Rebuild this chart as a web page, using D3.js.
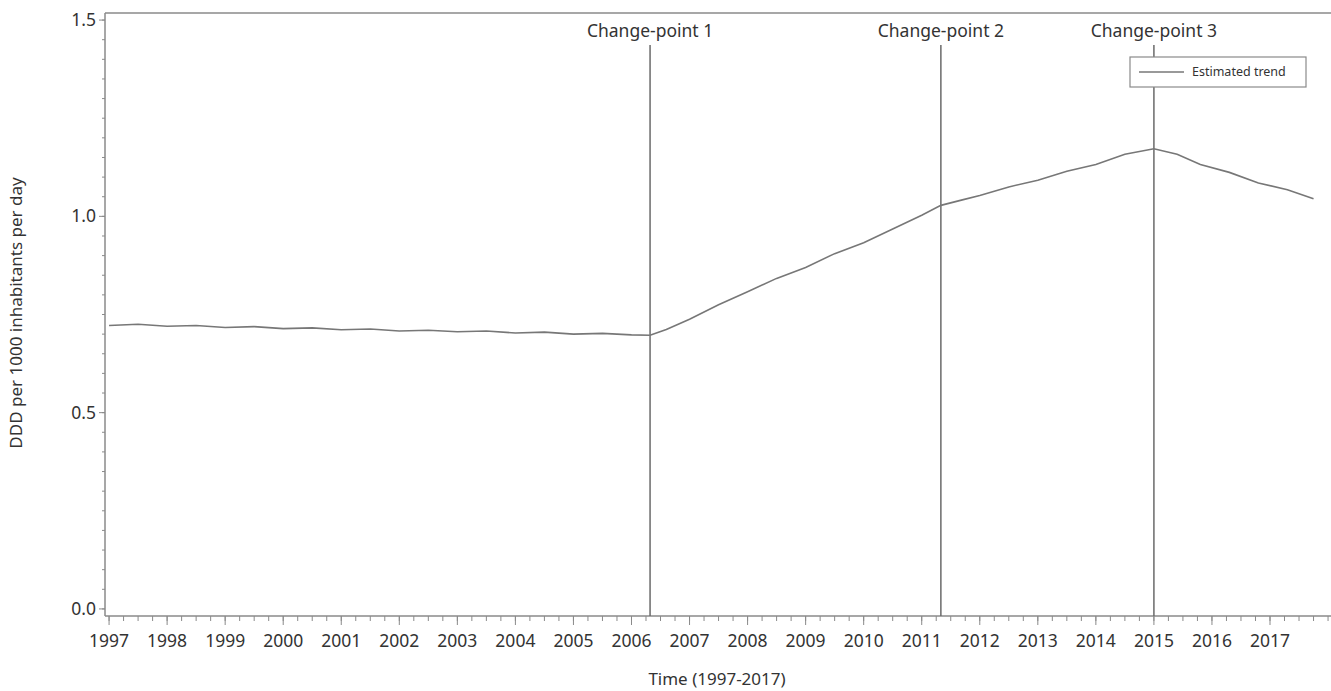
<!DOCTYPE html>
<html><head><meta charset="utf-8">
<script src="https://cdn.jsdelivr.net/npm/d3@7"></script>
<style>body{margin:0;background:#fff}svg{display:block}text{font-family:"Noto Sans","Open Sans",sans-serif;fill:#333}</style>
</head><body><svg id="c" width="1331" height="691"></svg>
<script>
const trendYears = [1997.0,1997.5,1998.0,1998.5,1999.0,1999.5,2000.0,2000.5,2001.0,2001.5,2002.0,2002.5,2003.0,2003.5,2004.0,2004.5,2005.0,2005.5,2006.0,2006.32,2006.6,2007.0,2007.5,2008.0,2008.5,2009.0,2009.5,2010.0,2010.5,2011.0,2011.33,2011.7,2012.0,2012.5,2013.0,2013.5,2014.0,2014.5,2015.0,2015.4,2015.8,2016.3,2016.8,2017.3,2017.75];
const trendValues = [0.722,0.725,0.720,0.722,0.717,0.719,0.714,0.716,0.711,0.713,0.708,0.710,0.706,0.708,0.703,0.705,0.700,0.702,0.698,0.697,0.712,0.738,0.775,0.808,0.842,0.870,0.905,0.933,0.968,1.003,1.028,1.042,1.053,1.075,1.092,1.115,1.132,1.158,1.172,1.158,1.132,1.112,1.085,1.068,1.045];
const changePoints = [2006.32, 2011.33, 2015.0];
const changeLabels = ["Change-point 1","Change-point 2","Change-point 3"];
const yearTicks = [1997,1998,1999,2000,2001,2002,2003,2004,2005,2006,2007,2008,2009,2010,2011,2012,2013,2014,2015,2016,2017];
const yTicks = [0.0,0.5,1.0,1.5];

const svg = d3.select("#c");
const L=105, R=1331, T=13, B=616;
const x = d3.scaleLinear().domain([1996.93, 1997 + (1331-109)/58.05]).range([L, R]);
const y = d3.scaleLinear().domain([-0.018, 1.518]).range([B, T]);
const axisCol = "#8a8a8a";

svg.append("line").attr("x1",L).attr("x2",R).attr("y1",T).attr("y2",T).attr("stroke",axisCol).attr("stroke-width",1.5);

const yMinor = d3.range(0, 1.5001, 0.05);
const ya = svg.append("g");
ya.selectAll(".ym").data(yMinor).enter().append("line")
  .attr("x1",L-3).attr("x2",L).attr("y1",d=>y(d)).attr("y2",d=>y(d)).attr("stroke",axisCol);
ya.selectAll(".yM").data(yTicks).enter().append("line")
  .attr("x1",L-6).attr("x2",L).attr("y1",d=>y(d)).attr("y2",d=>y(d)).attr("stroke",axisCol);
ya.selectAll("text").data(yTicks).enter().append("text")
  .attr("x",L-9).attr("y",d=>y(d)).attr("dy","0.35em").attr("text-anchor","end")
  .attr("font-size",17.5).text(d=>d.toFixed(1));
svg.append("line").attr("x1",L).attr("x2",L).attr("y1",T).attr("y2",B).attr("stroke",axisCol).attr("stroke-width",1.5);

const xMinor = d3.range(1997, 2018.01, 0.25);
const xa = svg.append("g");
xa.selectAll(".xm").data(xMinor).enter().append("line")
  .attr("x1",d=>x(d)).attr("x2",d=>x(d)).attr("y1",B).attr("y2",B+5).attr("stroke",axisCol);
xa.selectAll(".xM").data(yearTicks).enter().append("line")
  .attr("x1",d=>x(d)).attr("x2",d=>x(d)).attr("y1",B).attr("y2",B+9).attr("stroke",axisCol);
xa.selectAll("text").data(yearTicks).enter().append("text")
  .attr("x",d=>x(d)).attr("y",B+31).attr("text-anchor","middle")
  .attr("font-size",17.5).text(d=>d);
svg.append("line").attr("x1",L).attr("x2",R).attr("y1",B).attr("y2",B).attr("stroke",axisCol).attr("stroke-width",1.5);

changePoints.forEach((cp,i)=>{
  svg.append("line").attr("x1",x(cp)).attr("x2",x(cp)).attr("y1",45).attr("y2",B)
    .attr("stroke","#6a6a6a").attr("stroke-width",1.5);
  svg.append("text").attr("x",x(cp)).attr("y",37).attr("text-anchor","middle")
    .attr("font-size",17.5).text(changeLabels[i]);
});

const line = d3.line().x((d,i)=>x(trendYears[i])).y(d=>y(d));
svg.append("path").datum(trendValues).attr("d",line).attr("fill","none")
  .attr("stroke","#777").attr("stroke-width",1.6);

const lg = svg.append("g");
lg.append("rect").attr("x",1130).attr("y",57).attr("width",176).attr("height",30)
  .attr("fill","#fff").attr("stroke",axisCol).attr("stroke-width",1.2);
lg.append("line").attr("x1",1139).attr("x2",1184).attr("y1",72).attr("y2",72).attr("stroke","#777").attr("stroke-width",1.6);
lg.append("text").attr("x",1192).attr("y",72).attr("dy","0.35em").attr("font-size",12.5).text("Estimated trend");

svg.append("text").attr("transform","translate(22,313) rotate(-90)").attr("text-anchor","middle")
  .attr("font-size",17).text("DDD per 1000 inhabitants per day");
svg.append("text").attr("x",717).attr("y",685).attr("text-anchor","middle")
  .attr("font-size",17).text("Time (1997-2017)");
</script></body></html>
